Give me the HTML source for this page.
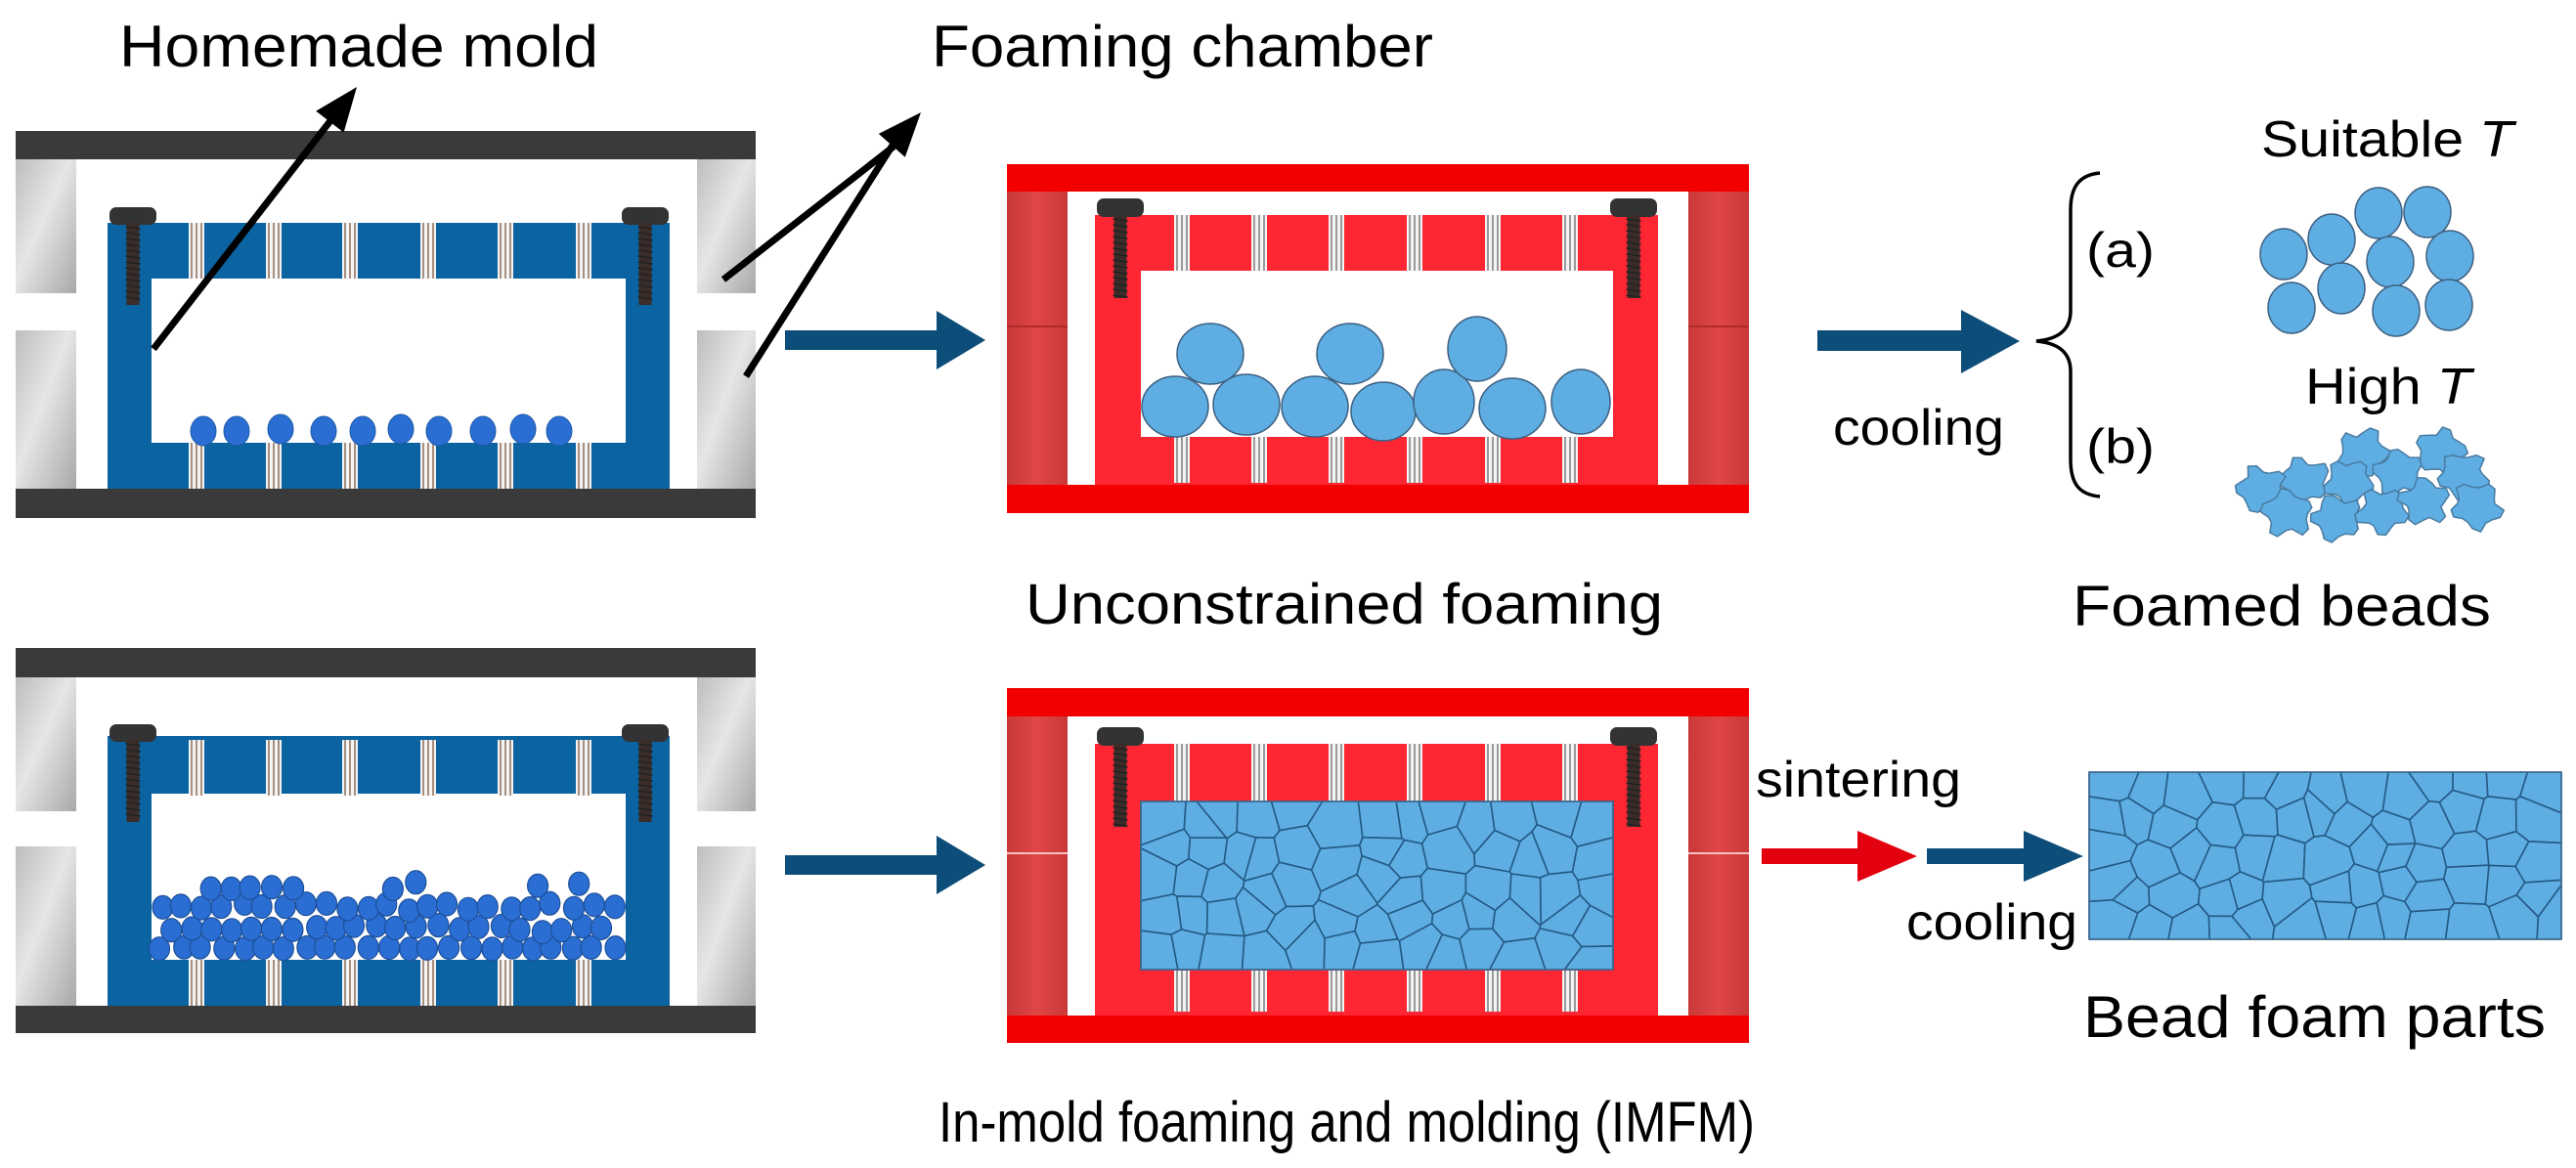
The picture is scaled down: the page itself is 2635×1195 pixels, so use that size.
<!DOCTYPE html>
<html><head><meta charset="utf-8">
<style>
html,body{margin:0;padding:0;background:#fff;}
svg{display:block;}
text{font-family:"Liberation Sans",Arial,sans-serif;fill:#000;}
</style></head>
<body>
<svg id="s" width="2635" height="1195" viewBox="0 0 2635 1195" xmlns="http://www.w3.org/2000/svg">
<defs>
<linearGradient id="gray" x1="0" y1="0" x2="1" y2="1">
<stop offset="0" stop-color="#bdbdbd"/><stop offset="0.45" stop-color="#e6e6e6"/><stop offset="1" stop-color="#a8a8a8"/>
</linearGradient>
<linearGradient id="redside" x1="0" y1="0" x2="1" y2="0">
<stop offset="0" stop-color="#c93838"/><stop offset="0.5" stop-color="#e04646"/><stop offset="1" stop-color="#c93838"/>
</linearGradient>
</defs>

<g id="m1">
<rect x="16" y="134" width="757" height="29" fill="#3a3a3a"/>
<rect x="16" y="500" width="757" height="30" fill="#3a3a3a"/>
<rect x="16" y="163" width="62" height="137" fill="url(#gray)"/>
<rect x="16" y="338" width="62" height="162" fill="url(#gray)"/>
<rect x="713" y="163" width="60" height="137" fill="url(#gray)"/>
<rect x="713" y="338" width="60" height="162" fill="url(#gray)"/>
<rect x="110" y="228" width="575" height="272" fill="#0b64a1"/>
<rect x="155" y="285" width="485" height="168" fill="#fff"/>
</g>
<g>
<rect x="16" y="663" width="757" height="30" fill="#3a3a3a"/>
<rect x="16" y="1029" width="757" height="28" fill="#3a3a3a"/>
<rect x="16" y="693" width="62" height="137" fill="url(#gray)"/>
<rect x="16" y="866" width="62" height="163" fill="url(#gray)"/>
<rect x="713" y="693" width="60" height="137" fill="url(#gray)"/>
<rect x="713" y="866" width="60" height="163" fill="url(#gray)"/>
<rect x="110" y="753" width="575" height="276" fill="#0b64a1"/>
<rect x="155" y="812" width="485" height="170" fill="#fff"/>
</g>

<g>
<rect x="1030" y="168" width="759" height="357" fill="#fff"/>
<rect x="1030" y="196" width="62" height="300" fill="url(#redside)"/>
<rect x="1727" y="196" width="62" height="300" fill="url(#redside)"/>
<line x1="1030" y1="334" x2="1092" y2="334" stroke="#b02a2a" stroke-width="2"/>
<line x1="1727" y1="334" x2="1789" y2="334" stroke="#b02a2a" stroke-width="2"/>
<rect x="1030" y="168" width="759" height="28" fill="#f20000"/>
<rect x="1030" y="496" width="759" height="29" fill="#f20000"/>
<rect x="1120" y="220" width="576" height="276" fill="#ff2633"/>
<rect x="1167" y="277" width="483" height="170" fill="#fff"/>
</g>
<g>
<rect x="1030" y="704" width="759" height="363" fill="#fff"/>
<rect x="1030" y="733" width="62" height="306" fill="url(#redside)"/>
<rect x="1727" y="733" width="62" height="306" fill="url(#redside)"/>
<line x1="1030" y1="873" x2="1092" y2="873" stroke="#f4c0c0" stroke-width="2"/>
<line x1="1727" y1="873" x2="1789" y2="873" stroke="#f4c0c0" stroke-width="2"/>
<rect x="1030" y="704" width="759" height="29" fill="#f20000"/>
<rect x="1030" y="1039" width="759" height="28" fill="#f20000"/>
<rect x="1120" y="761" width="576" height="278" fill="#ff2633"/>
<rect x="1167" y="820" width="483" height="172" fill="#5eaee3"/>
</g>

<rect x="2137" y="790" width="483" height="171" fill="#5eaee3"/>

<g id="dyn"></g>

<g fill="#0d4d79">
<polygon points="803,338 958,338 958,318 1008,348 958,378 958,358 803,358"/>
<polygon points="803,875 958,875 958,855 1008,885 958,915 958,895 803,895"/>
<polygon points="1859,338 2006,338 2006,317 2066,349 2006,382 2006,359 1859,359"/>
<polygon points="1971,868 2070,868 2070,850 2131,876 2070,902 2070,884 1971,884"/>
</g>
<polygon fill="#e3000f" points="1802,868 1900,868 1900,850 1961,876 1900,902 1900,884 1802,884"/>

<g stroke="#000" stroke-width="7" fill="none" stroke-linecap="butt">
<line x1="157" y1="357" x2="340" y2="121"/>
<line x1="740" y1="286" x2="914" y2="150"/>
<line x1="763" y1="385" x2="914" y2="147"/>
</g>
<polygon points="365,89 351.6,135.6 323.2,113.6" fill="#000"/>
<polygon points="942,115 925.8,160.7 898.8,136.9" fill="#000"/>

<path d="M2148,177 C2126,179 2118,192 2118,215 L2118,318 C2118,338 2105,347 2083,349 C2105,351 2118,360 2118,380 L2118,470 C2118,494 2126,506 2148,508" fill="none" stroke="#000" stroke-width="3.5"/>

<text x="122" y="68" font-size="60" textLength="490" lengthAdjust="spacingAndGlyphs">Homemade mold</text>
<text x="953" y="68" font-size="60" textLength="513" lengthAdjust="spacingAndGlyphs">Foaming chamber</text>
<text x="1875" y="455" font-size="52" textLength="175" lengthAdjust="spacingAndGlyphs">cooling</text>
<text x="2134" y="273" font-size="50" textLength="70" lengthAdjust="spacingAndGlyphs">(a)</text>
<text x="2134" y="474" font-size="50" textLength="70" lengthAdjust="spacingAndGlyphs">(b)</text>
<text x="2313" y="160" font-size="52" textLength="258" lengthAdjust="spacingAndGlyphs">Suitable <tspan font-style="italic">T</tspan></text>
<text x="2358" y="413" font-size="52" textLength="170" lengthAdjust="spacingAndGlyphs">High <tspan font-style="italic">T</tspan></text>
<text x="1049" y="638" font-size="58" textLength="652" lengthAdjust="spacingAndGlyphs">Unconstrained foaming</text>
<text x="2120" y="640" font-size="58" textLength="428" lengthAdjust="spacingAndGlyphs">Foamed beads</text>
<text x="960" y="1168" font-size="58" textLength="835" lengthAdjust="spacingAndGlyphs">In-mold foaming and molding (IMFM)</text>
<text x="1796" y="815" font-size="52" textLength="210" lengthAdjust="spacingAndGlyphs">sintering</text>
<text x="1950" y="961" font-size="52" textLength="175" lengthAdjust="spacingAndGlyphs">cooling</text>
<text x="2131" y="1061" font-size="60" textLength="473" lengthAdjust="spacingAndGlyphs">Bead foam parts</text>
</svg>

<script>
(function(){
var out=[];
var seed=12345;
function r(){seed=(seed*16807)%2147483647;return (seed-1)/2147483646;}
function vent(cx,y1,y2,line){
  out.push('<rect x="'+(cx-8)+'" y="'+y1+'" width="16" height="'+(y2-y1)+'" fill="#f4f4f4"/>');
  [-5,0,5].forEach(function(d){out.push('<line x1="'+(cx+d)+'" y1="'+y1+'" x2="'+(cx+d)+'" y2="'+y2+'" stroke="'+line+'" stroke-width="2"/>');});
}
function screw(cx,ht,hb,sb){
  out.push('<rect x="'+(cx-24)+'" y="'+ht+'" width="48" height="'+(hb-ht+2)+'" rx="7" fill="#333"/>');
  out.push('<rect x="'+(cx-6.5)+'" y="'+hb+'" width="13" height="'+(sb-hb)+'" fill="#3a2c29"/>');
  for(var y=hb+4;y<sb-2;y+=6){out.push('<line x1="'+(cx-7.5)+'" y1="'+y+'" x2="'+(cx+7.5)+'" y2="'+(y+2)+'" stroke="#222" stroke-width="1.5"/>');}
}
var bv=[201,280,358,438,517,597], rv=[1209,1288,1367,1447,1527,1606];
[0,529].forEach(function(o){
  bv.forEach(function(c){vent(c,228+o,285+o,"#a89080");vent(c,453+o,500+o,"#a89080");});
  screw(136,212+o,228+o,312+o);screw(660,212+o,228+o,312+o);
});
[[0,0],[541,2]].forEach(function(p){var o=p[0];var e=p[1];
  rv.forEach(function(c){vent(c,220+o,277+o+e,"#9a9a9a");vent(c,447+o+e*2.5,496+o-2,"#9a9a9a");});
  screw(1146,203+o,220+o,305+o);screw(1671,203+o,220+o,305+o);
});
[208,242,287,331,371,410,449,494,535,572].forEach(function(x,i){
  out.push('<ellipse cx="'+x+'" cy="'+(441-(i%3==2?2:0))+'" rx="13" ry="15" fill="#2a6ed3" stroke="#1d58a8" stroke-width="1"/>');
});
var rows=[[970,0],[950,10],[928,0],[906,8]];
rows.forEach(function(rw,k){
  for(var x=165+rw[1];x<632;x+=21){
    if(k==3 && r()<0.45) continue;
    var cx=x+(r()-0.5)*5, cy=rw[0]+(r()-0.5)*(k==0?2:8);
    out.push('<ellipse cx="'+cx.toFixed(1)+'" cy="'+cy.toFixed(1)+'" rx="10.5" ry="12" fill="#2a6ed3" stroke="#1d4f98" stroke-width="1.2"/>');
  }
});
var fb=[[1202,416,34,31],[1275,414,34,31],[1345,416,34,31],[1415,421,33,30],[1477,411,31,33],[1547,418,34,31],[1617,411,30,33],[1238,362,34,31],[1381,362,34,31],[1511,357,30,33]];
fb.forEach(function(b){out.push('<ellipse cx="'+b[0]+'" cy="'+b[1]+'" rx="'+b[2]+'" ry="'+b[3]+'" fill="#5eaee3" stroke="#3d5f80" stroke-width="1.5"/>');});
[[2336,260],[2385,245],[2433,218],[2483,217],[2445,268],[2506,262],[2344,315],[2395,295],[2451,318],[2505,312]].forEach(function(b){
  out.push('<ellipse cx="'+b[0]+'" cy="'+b[1]+'" rx="24" ry="26" fill="#5eaee3" stroke="#3d5f80" stroke-width="1.5"/>');});
[[2417,463],[2497,462],[2357,492],[2313,500],[2403,493],[2453,483],[2520,487],[2340,525],[2390,530],[2437,523],[2480,513],[2533,518]].forEach(function(b){
  var pts=[],n=20,rot=r()*6.28;
  for(var i=0;i<n;i++){var a=rot+i*6.2832/n;var rad=(Math.floor(i/2)%2==0?27:20)+(r()-0.5)*4;
    pts.push((b[0]+rad*Math.cos(a)).toFixed(1)+','+(b[1]+rad*Math.sin(a)*0.92).toFixed(1));}
  out.push('<polygon points="'+pts.join(' ')+'" fill="#5eaee3" stroke="#4a7aa0" stroke-width="1.5" stroke-linejoin="round"/>');
});
function clip(poly,s,t){
  var nx=t[0]-s[0],ny=t[1]-s[1],mx=(s[0]+t[0])/2,my=(s[1]+t[1])/2;
  function f(p){return (p[0]-mx)*nx+(p[1]-my)*ny;}
  var res=[];
  for(var i=0;i<poly.length;i++){
    var a=poly[i],b=poly[(i+1)%poly.length],fa=f(a),fb=f(b);
    if(fa<=0)res.push(a);
    if((fa<0&&fb>0)||(fa>0&&fb<0)){var tt=fa/(fa-fb);res.push([a[0]+(b[0]-a[0])*tt,a[1]+(b[1]-a[1])*tt]);}
  }
  return res;
}
function vor(x0,y0,w,h,cols,rws){
  var seeds=[];
  for(var i=0;i<cols;i++)for(var j=0;j<rws;j++){
    seeds.push([x0+(i+0.5+(r()-0.5)*0.8)*w/cols, y0+(j+0.5+(r()-0.5)*0.8)*h/rws]);
  }
  seeds.forEach(function(s){
    var poly=[[x0,y0],[x0+w,y0],[x0+w,y0+h],[x0,y0+h]];
    seeds.forEach(function(t){if(t!==s&&Math.abs(t[0]-s[0])<160&&Math.abs(t[1]-s[1])<160)poly=clip(poly,s,t);});
    if(poly.length<3)return;
    out.push('<polygon points="'+poly.map(function(p){return p[0].toFixed(1)+','+p[1].toFixed(1);}).join(' ')+'" fill="#5eaee3" stroke="#245a85" stroke-width="1.6" stroke-linejoin="round"/>');
  });
  out.push('<rect x="'+x0+'" y="'+y0+'" width="'+w+'" height="'+h+'" fill="none" stroke="#3d6a90" stroke-width="1.5"/>');
}
vor(1167,820,483,172,13,5);
vor(2137,790,483,171,13,5);
document.getElementById('dyn').innerHTML=out.join('');
})();
</script>
</body></html>
